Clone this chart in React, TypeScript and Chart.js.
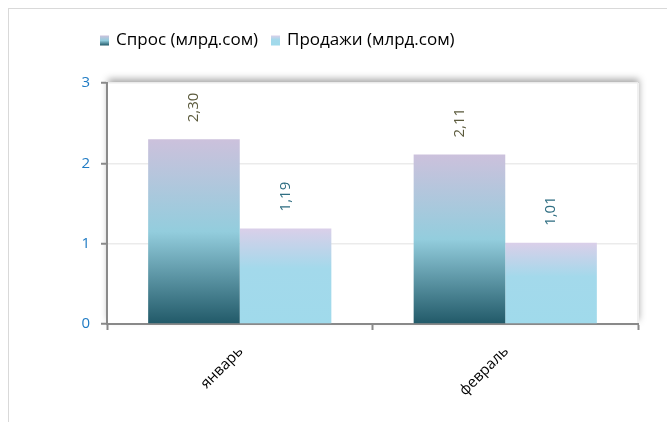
import React, { useEffect, useRef } from "react";
import { Chart, registerables } from "chart.js";

Chart.register(...registerables);

const categories = ["январь", "февраль"];
const demandValues = [2.3, 2.11];
const salesValues = [1.19, 1.01];
const seriesNames = ["Спрос (млрд.сом)", "Продажи (млрд.сом)"];
const yTicks = [0, 1, 2, 3];

const FONT = "'Open Sans', 'Noto Sans', sans-serif";

function barGradient(ctx: CanvasRenderingContext2D, top: number, bottom: number, which: number) {
  const g = ctx.createLinearGradient(0, top, 0, bottom);
  if (which === 0) {
    g.addColorStop(0, "#CCC1DC");
    g.addColorStop(0.5, "#93CDDD");
    g.addColorStop(1, "#215968");
  } else {
    g.addColorStop(0, "#DACFE9");
    g.addColorStop(0.42, "#A3D9EB");
    g.addColorStop(1, "#A0DAEB");
  }
  return g;
}

function bg(which: number) {
  return (c: any) => {
    const chart = c.chart;
    const y = chart.scales?.y;
    const fallback = which === 0 ? "#93CDDD" : "#A0DAEB";
    if (!y || typeof c.raw !== "number") return fallback;
    const top = y.getPixelForValue(c.raw);
    const bottom = y.getPixelForValue(0);
    if (!isFinite(top) || !isFinite(bottom) || top === bottom) return fallback;
    return barGradient(chart.ctx, top, bottom, which);
  };
}

const areaShadow = {
  id: "areaShadow",
  beforeDraw(chart: any) {
    const { ctx, chartArea: a } = chart;
    ctx.save();
    ctx.shadowColor = "rgba(0,0,0,0.35)";
    ctx.shadowBlur = 7;
    ctx.shadowOffsetX = 1;
    ctx.shadowOffsetY = -4;
    ctx.fillStyle = "#ffffff";
    ctx.fillRect(a.left, a.top, a.right - a.left, a.bottom - a.top);
    ctx.restore();
    ctx.save();
    ctx.fillStyle = "#ffffff";
    ctx.fillRect(a.left, a.top, a.right - a.left, a.bottom - a.top);
    ctx.strokeStyle = "#F0F0F0";
    ctx.lineWidth = 2;
    ctx.beginPath();
    ctx.moveTo(a.right, a.top);
    ctx.lineTo(a.right, a.bottom);
    ctx.stroke();
    ctx.restore();
  },
};

const customLegend = {
  id: "customLegend",
  afterDraw(chart: any) {
    const { ctx } = chart;
    ctx.save();
    ctx.font = `17px ${FONT}`;
    ctx.textBaseline = "middle";
    const xs = [100, 271];
    const cy = 40.5;
    seriesNames.forEach((name, i) => {
      const x = xs[i];
      ctx.fillStyle = barGradient(ctx, cy - 5, cy + 5, i);
      ctx.fillRect(x, cy - 5, 9, 10);
      ctx.fillStyle = "#000000";
      ctx.fillText(name, x + 16, cy);
    });
    ctx.restore();
  },
};

const categoryLabels = {
  id: "categoryLabels",
  afterDraw(chart: any) {
    const { ctx } = chart;
    const xs = chart.scales.x;
    const base = chart.chartArea.bottom;
    ctx.save();
    ctx.font = `15px ${FONT}`;
    ctx.fillStyle = "#000000";
    ctx.textAlign = "right";
    ctx.textBaseline = "middle";
    categories.forEach((label, i) => {
      const x = xs.getPixelForValue(i);
      ctx.save();
      ctx.translate(x + 1, base + 25);
      ctx.rotate(-Math.PI / 4);
      ctx.fillText(label, 0, 0);
      ctx.restore();
    });
    ctx.restore();
  },
};

const valueLabels = {
  id: "valueLabels",
  afterDatasetsDraw(chart: any) {
    const { ctx } = chart;
    const colors = ["#5B5A3C", "#2F6E82"];
    chart.data.datasets.forEach((ds: any, di: number) => {
      const meta = chart.getDatasetMeta(di);
      meta.data.forEach((bar: any, i: number) => {
        const v = ds.data[i] as number;
        const text = v.toFixed(2).replace(".", ",");
        ctx.save();
        ctx.translate(bar.x, bar.y - 17);
        ctx.rotate(-Math.PI / 2);
        ctx.font = `15px ${FONT}`;
        ctx.fillStyle = colors[di];
        ctx.textAlign = "left";
        ctx.textBaseline = "middle";
        ctx.fillText(text, 0, 0);
        ctx.restore();
      });
    });
  },
};

export default function App() {
  const ref = useRef<HTMLCanvasElement | null>(null);
  useEffect(() => {
    if (!ref.current) return;
    const chart = new Chart(ref.current, {
      type: "bar",
      data: {
        labels: categories,
        datasets: [
          { label: seriesNames[0], data: demandValues, backgroundColor: bg(0) as any, borderWidth: 0 },
          { label: seriesNames[1], data: salesValues, backgroundColor: bg(1) as any, borderWidth: 0 },
        ],
      },
      options: {
        responsive: false,
        animation: false,
        layout: { padding: { left: 67, right: 29, top: 83, bottom: 38 } },
        datasets: { bar: { categoryPercentage: 0.69, barPercentage: 1 } },
        plugins: { legend: { display: false }, tooltip: { enabled: false } },
        scales: {
          x: {
            afterFit: (s: any) => { s.height = 60; },
            grid: { offset: true, drawOnChartArea: false, drawTicks: true, tickLength: 6, tickColor: "#898989", tickWidth: 2 },
            border: { color: "#898989", width: 2 },
            ticks: { display: false },
          },
          y: {
            min: 0,
            max: 3,
            afterFit: (s: any) => { s.width = 40; },
            afterBuildTicks: (s: any) => { s.ticks = yTicks.map((v) => ({ value: v })); },
            grid: { color: "#EBEBEB", lineWidth: 1.5, tickLength: 6, tickColor: "#898989", tickWidth: 2 },
            border: { color: "#898989", width: 2 },
            ticks: { padding: 11, color: "#1F7BC4", font: { family: FONT, size: 15 } },
          },
        },
      },
      plugins: [areaShadow, valueLabels, customLegend, categoryLabels],
    });
    chart.update();
    return () => chart.destroy();
  }, []);
  return (
    <div style={{ position: "fixed", left: 0, top: 0, width: 667, height: 422, overflow: "hidden", background: "#fff" }}>
      <div style={{ position: "absolute", left: 8, top: 8, width: 700, height: 500, borderLeft: "1px solid #D9D9D9", borderTop: "1px solid #D9D9D9" }} />
      <canvas ref={ref} width={667} height={422} style={{ position: "absolute", left: 0, top: 0 }} />
    </div>
  );
}
